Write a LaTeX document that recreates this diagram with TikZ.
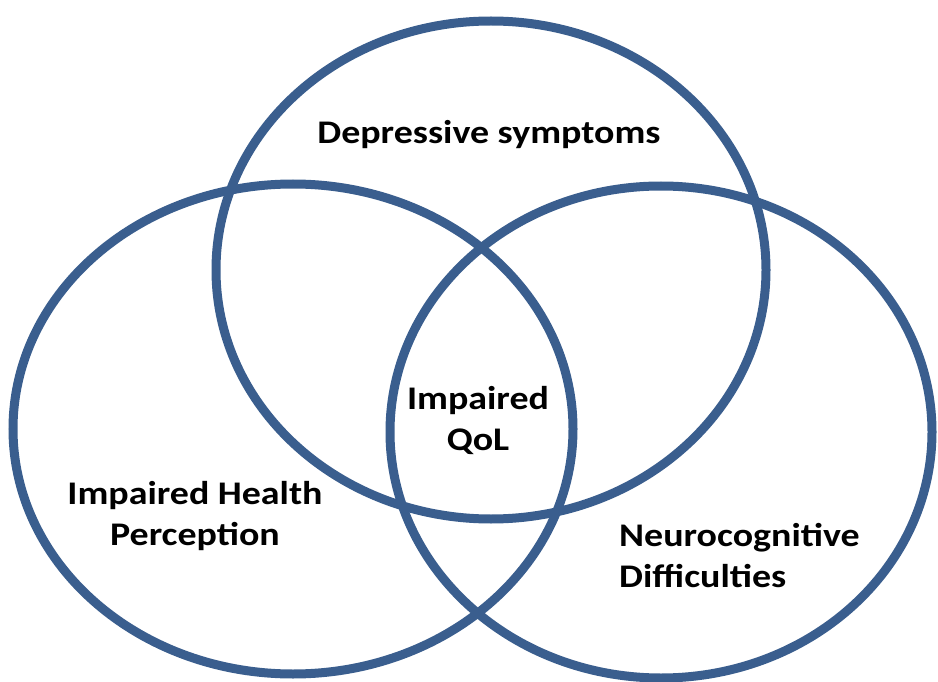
\documentclass[tikz,border=0pt]{standalone}
\usepackage{fontspec}
\setmainfont{Carlito}[FakeStretch=1.15]
\definecolor{ring}{RGB}{58,94,142}
\begin{document}
\begin{tikzpicture}[x=1pt,y=-1pt,
  ring/.style={draw=ring,line width=9pt},
  lab/.style={font=\bfseries\fontsize{33}{41}\selectfont,inner sep=0pt}]
\useasboundingbox (0,0) rectangle (938,682);
\draw[ring] (491,270) ellipse [x radius=275,y radius=249];
\draw[ring] (293,429) ellipse [x radius=280,y radius=245];
\draw[ring] (661,432) ellipse [x radius=271,y radius=246];
\node[lab] (dep) at (489,135) {Depressive symptoms};
\node[lab,align=center] (qol) at (478,420) {Impaired\\QoL};
\node[lab,align=center] (hp) at (195,516) {Impaired Health\\Perception};
\node[lab,align=left,anchor=west] (nd) at (619,556) {Neurocognitive\\Difficulties};
\end{tikzpicture}
\end{document}
